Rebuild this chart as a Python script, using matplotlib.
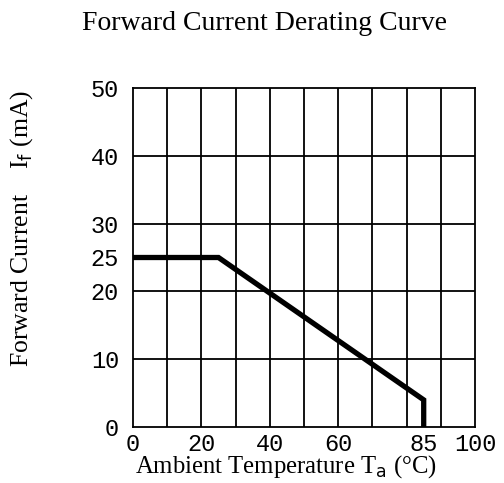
import matplotlib
matplotlib.use("Agg")
import matplotlib.pyplot as plt

# Data
temp = [0, 25, 85, 85]
current = [25, 25, 4, 0]
xticks = [0, 20, 40, 60, 85, 100]
yticks = [0, 10, 20, 25, 30, 40, 50]

fig = plt.figure(figsize=(5.04, 4.83), dpi=100)
ax = fig.add_axes([133/504, 1-427/483, (475-133)/504, (427-88)/483])

ax.set_xlim(0, 100)
ax.set_ylim(0, 50)
for x in range(10, 100, 10):
    ax.axvline(x, color="black", lw=1.3)
for y in range(10, 50, 10):
    ax.axhline(y, color="black", lw=1.3)
for s in ax.spines.values():
    s.set_linewidth(1.3)

ax.plot(temp, current, color="black", lw=3.8, solid_joinstyle="miter", solid_capstyle="butt")

tick_font = dict(family="Liberation Mono", size=17)
ax.set_xticks(xticks)
ax.set_xticklabels([str(t) for t in xticks], fontdict=tick_font)
ax.set_yticks(yticks)
ax.set_yticklabels([str(t) for t in yticks], fontdict=tick_font)
ax.tick_params(axis="y", length=0, pad=10)
ax.tick_params(axis="x", length=0, pad=4)

fig.text(264/504, 1-24/483, "Forward Current Derating Curve", ha="center", va="center",
         family="Liberation Serif", fontsize=20)
fig.text(286/504, 1-467/483, r"Ambient Temperature T$_{\mathrm{a}}$ (°C)", ha="center", va="center",
         family="Liberation Serif", fontsize=17.8)
fig.text(22/504, 1-228/483, r"Forward Current    I$_{\mathrm{f}}$ (mA)", ha="center", va="center",
         rotation=90, family="Liberation Serif", fontsize=18.5)

fig.savefig("out.png", dpi=100)
